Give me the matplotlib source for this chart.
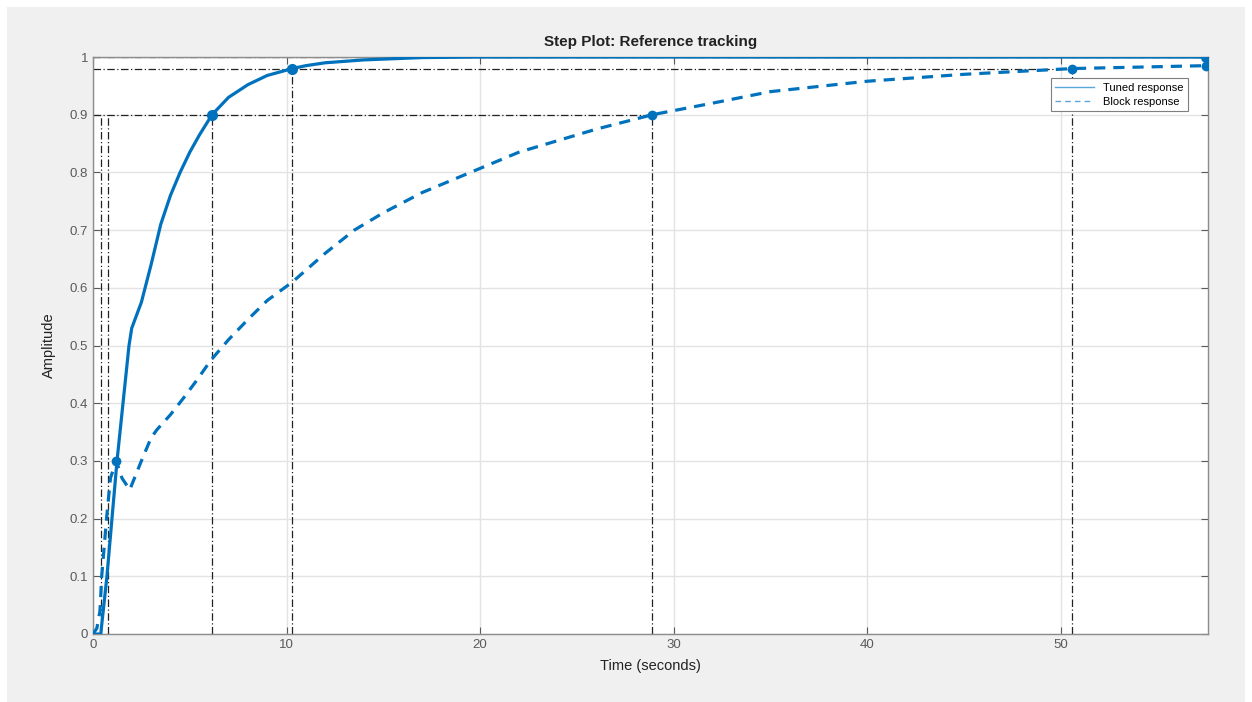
import matplotlib
matplotlib.use("Agg")
import matplotlib.pyplot as plt
from matplotlib.patches import Rectangle
from matplotlib.lines import Line2D

# ---- data ----
tuned_t = [0, 0.4, 0.72, 0.98, 1.24, 1.55, 1.86, 2.0, 2.5, 3.0, 3.5, 4.0, 4.5, 5.0, 5.5,
           6.15, 7, 8, 9, 10.3, 11, 12, 14, 17, 20, 57.5]
tuned_y = [0, 0, 0.1, 0.2, 0.3, 0.4, 0.5, 0.53, 0.575, 0.64, 0.71, 0.76, 0.80, 0.835, 0.865,
           0.9, 0.93, 0.952, 0.968, 0.98, 0.985, 0.99, 0.995, 0.999, 1.0, 1.0]

block_t = [0, 0.2, 0.36, 0.45, 0.7, 0.9, 1.2, 1.5, 1.9, 2.5, 3.0, 3.3, 4.0, 4.7, 5.3, 6.1,
           7, 8, 9, 10.3, 12, 13.5, 15, 17, 19.5, 22, 24, 26, 28.9, 32, 35, 40, 45, 50.6, 57.5]
block_y = [0, 0.01, 0.04, 0.1, 0.2, 0.27, 0.3, 0.27, 0.25, 0.3, 0.34, 0.354, 0.38, 0.41,
           0.437, 0.475, 0.51, 0.545, 0.578, 0.61, 0.66, 0.70, 0.73, 0.765, 0.80, 0.835,
           0.855, 0.875, 0.9, 0.92, 0.94, 0.958, 0.97, 0.98, 0.985]

# characteristic points
tuned_mark_t = [6.15, 10.3, 57.5]
tuned_mark_y = [0.9, 0.98, 1.0]
block_mark_t = [1.2, 28.9, 50.6, 57.5]
block_mark_y = [0.3, 0.9, 0.98, 0.985]

# reference lines: (t, y_top) and (y, t_end)
vlines = [(0.42, 0.9), (0.8, 0.9), (6.15, 0.9), (10.3, 0.98), (28.9, 0.9), (50.6, 0.98)]
hlines = [(0.9, 28.9), (0.98, 50.6), (1.0, 57.5)]

x_ticks = [0, 10, 20, 30, 40, 50]
y_ticks = [0, 0.1, 0.2, 0.3, 0.4, 0.5, 0.6, 0.7, 0.8, 0.9, 1]
y_ticklabels = ["0", "0.1", "0.2", "0.3", "0.4", "0.5", "0.6", "0.7", "0.8", "0.9", "1"]

blue = "#0072BD"
plt.rcParams['font.family'] = ['Liberation Sans', 'DejaVu Sans']

fig = plt.figure(figsize=(12.52, 7.02), dpi=100)
fig.patch.set_facecolor("white")
fig.patches.append(Rectangle((7 / 1252, 0), 1 - 14 / 1252, 1 - 7 / 702,
                             transform=fig.transFigure, facecolor="#f0f0f0",
                             edgecolor="none", zorder=-10))

ax = fig.add_axes([93 / 1252, 1 - 634 / 702, (1208 - 93) / 1252, (634 - 57) / 702])
ax.set_facecolor("white")

# grid
ax.grid(True, color="#e3e3e3", linewidth=1.0)
ax.set_axisbelow(True)

# reference dash-dot lines
for t, ytop in vlines:
    ax.plot([t, t], [0, ytop], color="#222222", linewidth=0.9, linestyle=(0, (6, 2, 1, 2)), zorder=2)
for y, tend in hlines:
    ax.plot([0, tend], [y, y], color="#222222", linewidth=0.9, linestyle=(0, (6, 2, 1, 2)), zorder=2)

# curves
ax.plot(tuned_t, tuned_y, color=blue, linewidth=2.3, zorder=4)
ax.plot(block_t, block_y, color=blue, linewidth=2.3, linestyle=(0, (3.5, 2.5)), zorder=4)
ax.plot(tuned_mark_t, tuned_mark_y, "o", color=blue, markersize=7, zorder=5)
ax.plot(block_mark_t, block_mark_y, "o", color=blue, markersize=6, zorder=5)

ax.set_xlim(0, 57.6)
ax.set_ylim(0, 1)
ax.set_xticks(x_ticks)
ax.set_yticks(y_ticks)
ax.set_yticklabels(y_ticklabels)
ax.tick_params(direction="in", colors="#5a5a5a", labelsize=9.5, length=5, width=0.8,
               top=True, right=True)
for s in ax.spines.values():
    s.set_color("#8c8c8c")
    s.set_linewidth(1.0)

ax.set_title("Step Plot: Reference tracking", fontsize=11, fontweight="bold",
             color="#222222", pad=8)
ax.set_xlabel("Time (seconds)", fontsize=10.5, color="#222222", labelpad=6)
ax.set_ylabel("Amplitude", fontsize=10.5, color="#222222", labelpad=10)

handles = [Line2D([], [], color="#5aa6d8", linewidth=1.0),
           Line2D([], [], color="#5aa6d8", linewidth=1.0, linestyle=(0, (4, 3)))]
leg = ax.legend(handles, ["Tuned response", "Block response"], loc="upper right",
                bbox_to_anchor=(0.987, 0.973), fontsize=8, fancybox=False,
                framealpha=1, edgecolor="#7f7f7f", handlelength=3.5,
                borderpad=0.4, labelspacing=0.4)
leg.get_frame().set_linewidth(0.8)
leg.set_zorder(10)

fig.savefig("out.png", dpi=100)
